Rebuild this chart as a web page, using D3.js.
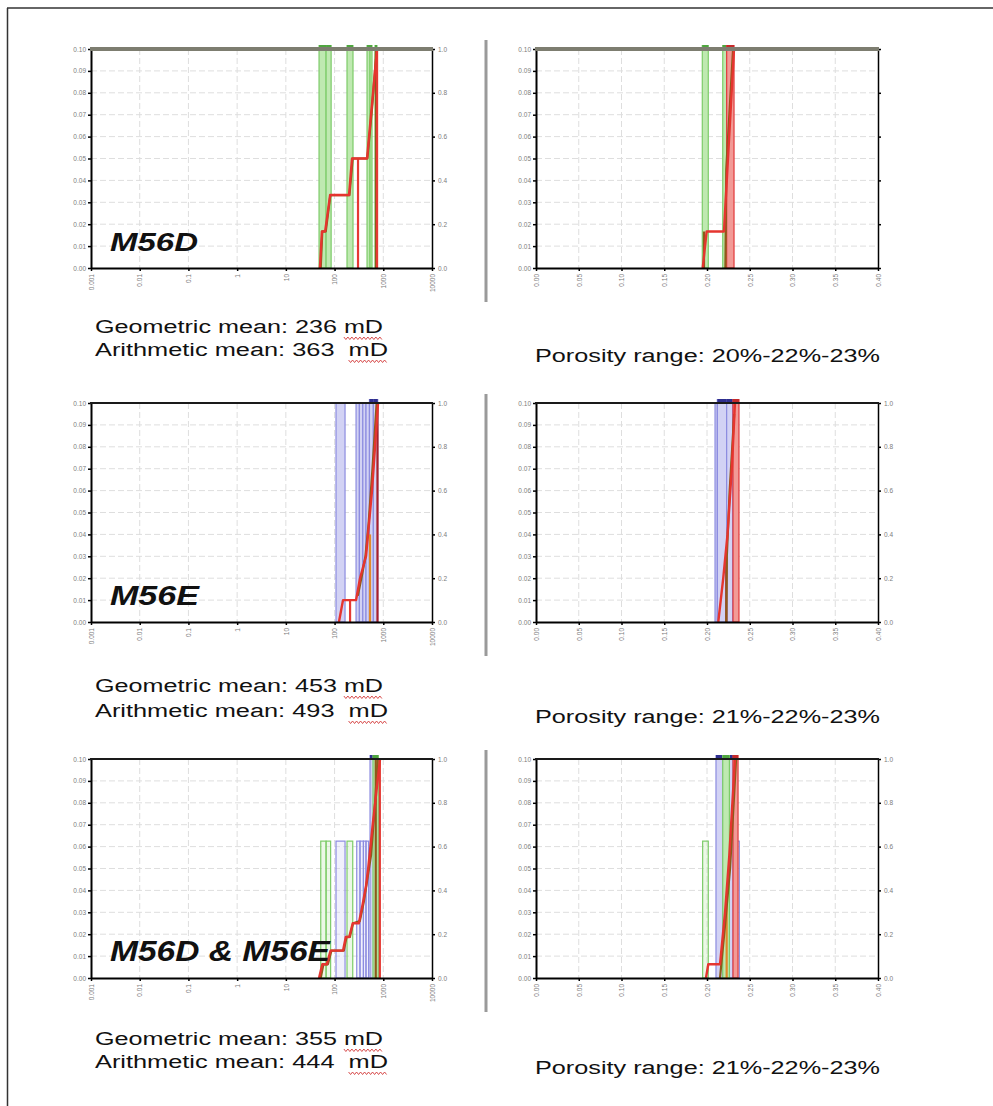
<!DOCTYPE html>
<html>
<head>
<meta charset="utf-8">
<script src="https://cdn.jsdelivr.net/npm/d3@7"></script>
<style>
  body { margin: 0; background: #fff; }
  svg { display: block; }
  text { white-space: pre; }
</style>
</head>
<body>
<svg id="fig" width="993" height="1106"></svg>
<script>
// ---------- axis ticks ----------
const permTicks = [0.001, 0.01, 0.1, 1, 10, 100, 1000, 10000];
const permTickLabels = ["0.001", "0.01", "0.1", "1", "10", "100", "1000", "10000"];
const poroTicks = [0, 0.05, 0.10, 0.15, 0.20, 0.25, 0.30, 0.35, 0.40];
const poroTickLabels = ["0.00", "0.05", "0.10", "0.15", "0.20", "0.25", "0.30", "0.35", "0.40"];
const freqTicks = [0, 0.01, 0.02, 0.03, 0.04, 0.05, 0.06, 0.07, 0.08, 0.09, 0.10];
const cumTicks = [0, 0.2, 0.4, 0.6, 0.8, 1.0];

// ---------- well summaries ----------
const wellLabels = ["M56D", "M56E", "M56D & M56E"];
const geoMeans = [236, 453, 355];      // mD
const arithMeans = [363, 493, 444];    // mD
const porosityRanges = [[20, 22, 23], [21, 22, 23], [21, 22, 23]]; // %

// ---------- permeability histograms: [low mD, high mD, frequency] ----------
const permBinsD = [[48, 67, 0.167], [67, 85, 0.167], [180, 239, 0.167], [464, 534, 0.167], [534, 587, 0.167], [676, 743, 0.167]];
const permBinsE = [[107, 164, 0.1], [276, 323, 0.1], [323, 380, 0.1], [380, 442, 0.1], [442, 520, 0.1], [520, 625, 0.2], [625, 770, 0.3]];
const permBinsDE_D = [[52, 67, 0.0625], [67, 83, 0.0625], [180, 236, 0.0625], [615, 790, 0.1875]];
const permBinsDE_E = [[107, 164, 0.0625], [285, 333, 0.0625], [333, 391, 0.0625], [391, 442, 0.0625], [442, 500, 0.0625], [534, 676, 0.3125]];

// cumulative curves: [mD, cumulative fraction]
const permCumD = [[50, 0], [55, 0.167], [64, 0.167], [81, 0.333], [198, 0.333], [228, 0.5], [464, 0.5], [587, 0.75], [745, 1.0]];
const permCumDAlt = [[52, 0], [56, 0.167], [66, 0.167], [82, 0.333], [202, 0.333], [236, 0.5], [472, 0.5], [600, 0.75], [700, 0.95], [712, 1.0]];
const permCumE = [[123, 0], [149, 0.1], [276, 0.1], [333, 0.2], [442, 0.3], [486, 0.4], [587, 0.6], [780, 1.0]];
const permCumEAlt = [[300, 0.12], [370, 0.22], [430, 0.3], [500, 0.45], [600, 0.7], [730, 1.0]];
const permCumDE = [[48, 0], [56, 0.0625], [69, 0.0625], [83, 0.125], [149, 0.125], [170, 0.1875], [200, 0.1875], [236, 0.25], [315, 0.25], [380, 0.34], [442, 0.42], [490, 0.5], [600, 0.69], [857, 1.0]];
const permCumDEAlt = [[52, 0], [59, 0.0625], [73, 0.0625], [86, 0.125], [155, 0.125], [176, 0.1875], [206, 0.1875], [240, 0.25], [330, 0.26], [400, 0.35], [470, 0.45], [560, 0.56], [680, 0.8], [770, 1.0]];

// vertical markers: [mD, top of marker (cumulative), colour key]
const permMarksD = [[303, 0.5, "red"], [709, 1.0, "brown"], [745, 1.0, "red"]];
const permMarksE = [[208, 0.1, "red"], [534, 0.4, "orange"], [760, 1.0, "darkred"]];
const permMarksDE = [[700, 1.0, "brown"], [850, 1.0, "red"]];

// ---------- porosity histograms: [low, high, frequency] ----------
const poroBinsD = [[0.1945, 0.2015, 0.167], [0.2184, 0.2277, 0.833]];
const poroHighD = [[0.2230, 0.2316, 1.0]];
const poroBinsE = [[0.2094, 0.2121, 0.1], [0.2121, 0.2230, 0.4], [0.2230, 0.2300, 0.3], [0.2300, 0.2366, 0.2]];
const poroHighE = [[0.2304, 0.2374, 1.0]];
const poroBinsDE_D = [[0.1949, 0.2015, 0.0625], [0.2184, 0.2262, 0.3125]];
const poroBinsDE_E = [[0.2105, 0.2184, 0.25], [0.2262, 0.2304, 0.3125], [0.2316, 0.2378, 0.0625]];
const poroHighDE = [[0.2304, 0.2363, 1.0]];

const poroCumD = [[0.1950, 0], [0.1996, 0.167], [0.2199, 0.167], [0.2210, 0.25], [0.2316, 1.0]];
const poroCumDAlt = [[0.1965, 0], [0.1965, 0.167], null, [0.2215, 0], [0.2225, 0.45], [0.2305, 1.0]];
const poroCumE = [[0.2132, 0], [0.2190, 0.2], [0.2240, 0.4], [0.2290, 0.7], [0.2327, 1.0]];
const poroCumEAlt = [[0.2226, 0], [0.2232, 0.3], [0.2265, 0.6], [0.2318, 0.95]];
const poroCumDE = [[0.1988, 0], [0.2015, 0.0625], [0.2152, 0.0625], [0.2211, 0.30], [0.2261, 0.56], [0.2327, 1.0]];
const poroCumDEAlt = [[0.2152, 0], [0.2211, 0.24], [0.2270, 0.5], [0.2340, 1.0]];

const poroMarksD = [];
const poroMarksE = [[0.2226, 0.3, "darkred"]];
const poroMarksDE = [[0.2230, 0.35, "orange"]];

// ---------- styling ----------
const SANS = "'Liberation Sans', Arial, Helvetica, sans-serif";
const palette = {
  D: { fill: "#bfe9b1", stroke: "#7dcc69", cap: "#4fa540" },
  E: { fill: "#d2d2f4", stroke: "#8c8ce0", cap: "#2e2e8e" },
  H: { fill: "#f29a96", stroke: "#e0393a", cap: "#c42a2a" }
};
const markColors = { red: "#e53a34", brown: "#8a5a1c", orange: "#e08a2a", darkred: "#a8202a" };
const RED = "#e5352f", BROWN = "#8c5c1a";

const PERM_X = [91, 432];
const PORO_X = [536, 878];
const ROW_TOP = [49, 403, 759];
const PLOT_H = 219;
// text baselines per row: geometric, arithmetic, porosity
const TEXT_Y = [[333, 356, 362], [692, 717, 723], [1045, 1068, 1074]];

const svg = d3.select("#fig");
const defs = svg.append("defs");

// outer frame
svg.append("line").attr("x1", 7).attr("x2", 993).attr("y1", 8).attr("y2", 8)
  .attr("stroke", "#333").attr("stroke-width", 1.5);
svg.append("line").attr("x1", 7.5).attr("x2", 7.5).attr("y1", 8).attr("y2", 1106)
  .attr("stroke", "#333").attr("stroke-width", 1.5);

function styleAxis(sel) {
  sel.select(".domain").attr("stroke", "#000").attr("stroke-width", 2);
  sel.selectAll(".tick line").attr("stroke", "#000").attr("stroke-width", 1.5);
  sel.selectAll(".tick text").attr("font-size", 6.5).attr("font-family", SANS).attr("fill", "#7c7c7c");
}

let clipCount = 0;
function drawPanel(p) {
  const [x0, x1] = p.xRange;
  const top = p.top, bottom = top + PLOT_H;
  const x = p.log
    ? d3.scaleLog().domain([0.001, 10000]).range([x0, x1])
    : d3.scaleLinear().domain([0, 0.40]).range([x0, x1]);
  const yF = d3.scaleLinear().domain([0, 0.10]).range([bottom, top]);
  const yC = d3.scaleLinear().domain([0, 1]).range([bottom, top]);
  const g = svg.append("g");

  // light grid
  g.append("g").selectAll("line").data(freqTicks.slice(1, -1)).join("line")
    .attr("x1", x0).attr("x2", x1).attr("y1", d => yF(d)).attr("y2", d => yF(d))
    .attr("stroke", "#dedede").attr("stroke-width", 1).attr("stroke-dasharray", "6,3");
  g.append("g").selectAll("line").data(p.ticks.slice(1, -1)).join("line")
    .attr("x1", d => x(d)).attr("x2", d => x(d)).attr("y1", top).attr("y2", bottom)
    .attr("stroke", "#dedede").attr("stroke-width", 1).attr("stroke-dasharray", "6,3");

  // clip region: plot area plus a few pixels above the top border
  const cid = "plotclip" + (clipCount++);
  defs.append("clipPath").attr("id", cid).append("rect")
    .attr("x", x0).attr("y", top - 4).attr("width", x1 - x0).attr("height", bottom - top + 4);
  const plot = g.append("g").attr("clip-path", `url(#${cid})`);

  // histogram bars
  p.bins.forEach(series => {
    const c = palette[series.key];
    const sg = plot.append("g");
    sg.selectAll("rect.bar").data(series.data).join("rect").attr("class", "bar")
      .attr("x", d => x(d[0])).attr("width", d => x(d[1]) - x(d[0]))
      .attr("y", d => yF(d[2])).attr("height", d => bottom - yF(d[2]))
      .attr("fill", c.fill).attr("fill-opacity", d => d[2] >= 0.1 ? 1 : 0.3)
      .attr("stroke", c.stroke).attr("stroke-width", 1.2);
    sg.selectAll("rect.cap").data(series.data.filter(d => d[2] > 0.1)).join("rect").attr("class", "cap")
      .attr("x", d => x(d[0])).attr("width", d => x(d[1]) - x(d[0]))
      .attr("y", top - 4).attr("height", 4).attr("fill", c.cap);
  });

  // vertical markers
  plot.append("g").selectAll("line").data(p.marks).join("line")
    .attr("x1", d => x(d[0])).attr("x2", d => x(d[0]))
    .attr("y1", bottom).attr("y2", d => yC(d[1]))
    .attr("stroke", d => markColors[d[2]]).attr("stroke-width", 2.2);

  // cumulative curves
  const line = d3.line().defined(d => d !== null).x(d => x(d[0])).y(d => yC(d[1]));
  plot.append("path").datum(p.cumAlt).attr("d", line)
    .attr("fill", "none").attr("stroke", BROWN).attr("stroke-width", 2.2).attr("stroke-linejoin", "round");
  plot.append("path").datum(p.cum).attr("d", line)
    .attr("fill", "none").attr("stroke", RED).attr("stroke-width", 2.4).attr("stroke-linejoin", "round");

  // axes
  const axL = g.append("g").attr("transform", `translate(${x0},0)`)
    .call(d3.axisLeft(yF).tickValues(freqTicks).tickFormat(d3.format(".2f")).tickSize(3).tickSizeOuter(0).tickPadding(2));
  styleAxis(axL);

  const axB = g.append("g").attr("transform", `translate(0,${bottom})`)
    .call(d3.axisBottom(x).tickValues(p.ticks).tickFormat((d, i) => p.tickLabels[i]).tickSize(3).tickSizeOuter(0));
  styleAxis(axB);
  axB.selectAll(".tick text").attr("transform", "rotate(-90)")
    .attr("text-anchor", "end").attr("x", -6).attr("y", 0).attr("dy", "0.35em");

  const axR = g.append("g").attr("transform", `translate(${x1},0)`)
    .call(d3.axisRight(yC).tickValues(cumTicks).tickFormat(d3.format(".1f")).tickSize(3).tickSizeOuter(0).tickPadding(3));
  styleAxis(axR);
  axR.select(".domain").attr("stroke-width", 1.5);
  if (p.rightClip) {
    const rid = "rclip" + (clipCount++);
    defs.append("clipPath").attr("id", rid).append("rect")
      .attr("x", 0).attr("y", top - 10).attr("width", p.rightClip).attr("height", PLOT_H + 20);
    axR.selectAll(".tick text").attr("clip-path", `url(#${rid})`);
  }

  // top border
  g.append("line").attr("x1", x0 - 1).attr("x2", x1 + 1).attr("y1", top).attr("y2", top)
    .attr("stroke", p.borderColor).attr("stroke-width", p.borderWidth);
}

// squiggly underline below a substring of a text element
function squiggle(textSel, sub, baseline) {
  const node = textSel.node();
  const s = node.textContent;
  const i = s.lastIndexOf(sub);
  let xs, xe;
  try {
    const a = node.getExtentOfChar(i), b = node.getExtentOfChar(i + sub.length - 1);
    xs = a.x; xe = b.x + b.width;
  } catch (e) { return; }
  const pts = [];
  for (let k = 0, px = xs; px <= xe; k++, px += 2) pts.push([px, baseline + (k % 2 ? 6.5 : 4)]);
  svg.append("path").attr("d", d3.line()(pts)).attr("fill", "none")
    .attr("stroke", "#d23a3a").attr("stroke-width", 0.9);
}

function stretchText(xPos, yPos, str, size, width, weight, style) {
  return svg.append("text").attr("x", xPos).attr("y", yPos)
    .attr("font-family", SANS).attr("font-size", size)
    .attr("font-weight", weight || "normal").attr("font-style", style || "normal")
    .attr("fill", "#111")
    .attr("textLength", width).attr("lengthAdjust", "spacingAndGlyphs")
    .text(str);
}

const panels = [
  { row: 0, log: true, bins: [{ key: "D", data: permBinsD }], cum: permCumD, cumAlt: permCumDAlt, marks: permMarksD },
  { row: 0, log: false, bins: [{ key: "D", data: poroBinsD }, { key: "H", data: poroHighD }], cum: poroCumD, cumAlt: poroCumDAlt, marks: poroMarksD, rightClip: 10 },
  { row: 1, log: true, bins: [{ key: "E", data: permBinsE }], cum: permCumE, cumAlt: permCumEAlt, marks: permMarksE },
  { row: 1, log: false, bins: [{ key: "E", data: poroBinsE }, { key: "H", data: poroHighE }], cum: poroCumE, cumAlt: poroCumEAlt, marks: poroMarksE },
  { row: 2, log: true, bins: [{ key: "E", data: permBinsDE_E }, { key: "D", data: permBinsDE_D }], cum: permCumDE, cumAlt: permCumDEAlt, marks: permMarksDE },
  { row: 2, log: false, bins: [{ key: "E", data: poroBinsDE_E }, { key: "D", data: poroBinsDE_D }, { key: "H", data: poroHighDE }], cum: poroCumDE, cumAlt: poroCumDEAlt, marks: poroMarksDE }
];

panels.forEach(p => {
  p.top = ROW_TOP[p.row];
  p.xRange = p.log ? PERM_X : PORO_X;
  p.ticks = p.log ? permTicks : poroTicks;
  p.tickLabels = p.log ? permTickLabels : poroTickLabels;
  p.borderColor = p.row === 0 ? "#7d7d70" : "#1a1a1a";
  p.borderWidth = p.row === 0 ? 4 : 2.2;
  drawPanel(p);
});

// column dividers, well names and summary text
const titleSizes = [25, 27, 30];
const titleWidths = [88, 89, 220];
ROW_TOP.forEach((top, r) => {
  svg.append("line").attr("x1", 486).attr("x2", 486).attr("y1", top - 9).attr("y2", top + 253)
    .attr("stroke", "#9a9a9a").attr("stroke-width", 3);

  stretchText(110, top + 202, wellLabels[r], titleSizes[r], titleWidths[r], "bold", "italic");

  const [yGeo, yAri, yPor] = TEXT_Y[r];
  const geo = stretchText(95, yGeo, `Geometric mean: ${geoMeans[r]} mD`, 18, 288);
  squiggle(geo, "mD", yGeo);
  const ari = stretchText(95, yAri, `Arithmetic mean: ${arithMeans[r]}  mD`, 18, 293);
  squiggle(ari, "mD", yAri);
  const pr = porosityRanges[r];
  stretchText(535, yPor, `Porosity range: ${pr[0]}%-${pr[1]}%-${pr[2]}%`, 18, 345);
});
</script>
</body>
</html>
